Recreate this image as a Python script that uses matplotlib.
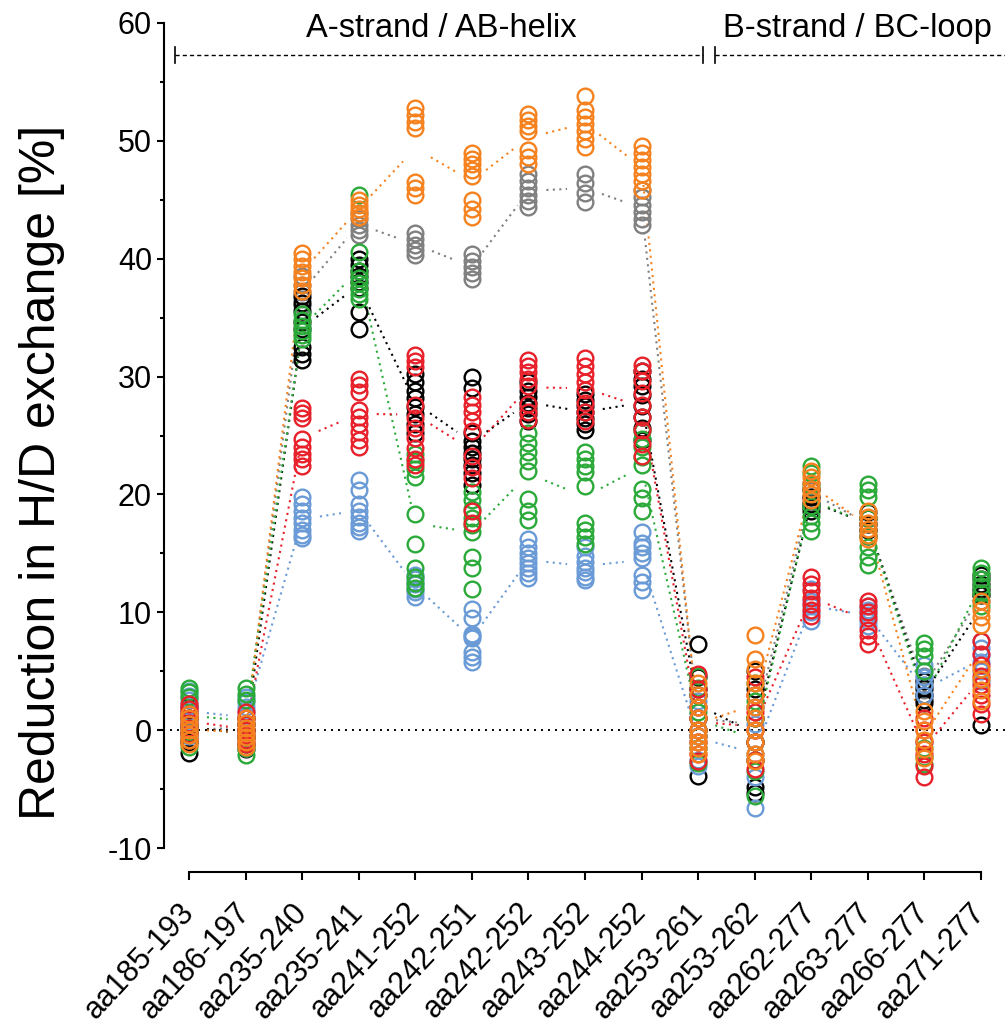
import numpy as np
import matplotlib
matplotlib.use("Agg")
import matplotlib.pyplot as plt

plt.rcParams['font.family'] = ['Liberation Sans', 'DejaVu Sans']
plt.rcParams['axes.unicode_minus'] = False

peptides = ["aa185-193", "aa186-197", "aa235-240", "aa235-241", "aa241-252",
            "aa242-251", "aa242-252", "aa243-252", "aa244-252", "aa253-261",
            "aa253-262", "aa262-277", "aa263-277", "aa266-277", "aa271-277"]

regions = ["A-strand / AB-helix", "B-strand / BC-loop"]

# replicate values per peptide, one list per colour
gray = [[1.0, 0.5, 0.0, -0.5, -1.0], [1.0, 0.5, 0.0, -0.5],
        [38.5, 37.8, 37.2, 36.6, 36.0], [43.9, 43.4, 42.9, 42.4, 42.0],
        [42.2, 41.7, 41.2, 40.7, 40.3], [40.4, 39.8, 39.3, 38.8, 38.3],
        [47.2, 46.6, 46.0, 45.4, 44.9, 44.4], [47.2, 46.4, 45.6, 44.8],
        [45.8, 45.2, 44.6, 44.0, 43.4, 42.9], [3.0, 2.0, 1.0, 0.0, -1.0],
        [3.0, 2.0, 1.0, 0.0, -1.0, -2.0], [21.0, 20.4, 19.8, 19.4],
        [18.0, 17.5, 17.0], [4.6, 4.2, 3.8, 3.4, 3.0], [11.8, 11.5, 11.0]]

black = [[2.0, 1.5, 1.0, 0.4, -0.2, -1.0, -1.9], [1.0, 0.5, 0.0, -0.6, -1.2, -1.6],
         [36.8, 36.2, 35.6, 34.6, 34.0, 32.5, 31.9, 31.4],
         [40.0, 39.5, 39.0, 38.5, 38.0, 37.5, 35.5, 34.0],
         [30.2, 29.5, 28.8, 28.2, 27.4, 26.8, 26.0, 25.2],
         [30.0, 29.0, 25.2, 24.5, 24.0, 23.5, 23.0, 22.5, 21.8, 20.8],
         [29.5, 28.8, 28.3, 27.8, 27.3, 26.8, 26.2],
         [28.5, 28.0, 27.5, 27.0, 26.5, 26.0, 25.5],
         [30.5, 29.8, 29.2, 28.4, 27.5, 26.6, 25.6, 24.6],
         [7.3, 4.5, 3.5, 3.0, 1.0, -0.5, -3.9], [5.0, 3.5, 1.0, -1.0, -4.8, -5.3],
         [20.5, 19.8, 19.2, 18.9, 18.6], [18.5, 18.0, 17.5, 17.0, 16.5],
         [4.2, 3.6, 3.0, 2.6, 2.3], [13.2, 12.8, 12.4, 12.0, 11.5, 0.4]]

blue = [[3.3, 2.9, 2.6, 2.2, 1.5, 0.8, 0.2, -0.5], [2.8, 2.4, 2.0, 1.6, 1.2, 0.5, -0.3, -1.5],
        [19.8, 19.2, 18.6, 18.0, 17.6, 17.0, 16.6, 16.3],
        [21.2, 20.4, 19.2, 18.6, 18.1, 17.6, 17.2, 16.9],
        [13.2, 12.8, 12.4, 12.0, 11.7, 11.3],
        [10.3, 9.5, 8.2, 8.0, 7.8, 6.6, 6.2, 5.8],
        [16.2, 15.5, 15.0, 14.6, 14.2, 13.8, 13.3, 12.9],
        [15.5, 14.8, 14.3, 13.8, 13.4, 13.0, 12.7],
        [16.8, 15.9, 15.5, 15.0, 14.6, 13.2, 12.6, 11.9],
        [2.5, 1.0, -0.5, -1.5, -2.5, -3.0], [2.0, 0.5, -1.0, -2.5, -4.0, -6.6],
        [9.3, 10.0, 10.5, 11.0, 12.0], [8.8, 9.3, 9.8, 10.2, 10.5],
        [5.5, 5.0, 4.5, 3.8, 3.0, -1.0], [7.6, 7.0, 6.4, 5.8, 5.0, 4.2]]

green = [[3.6, 3.2, 2.8, 1.0, 0.2, -0.8, -1.4], [3.6, 3.1, 2.6, 0.5, -0.6, -1.5, -2.1],
         [35.3, 34.8, 34.3, 33.9, 33.5, 33.2],
         [45.4, 40.6, 39.0, 38.4, 37.9, 37.4, 37.0, 36.6],
         [23.4, 22.8, 22.2, 21.5, 18.3, 15.8, 13.8, 13.0, 12.5, 12.1],
         [20.2, 19.5, 18.8, 18.0, 17.4, 16.8, 14.7, 13.8, 12.0],
         [25.2, 24.4, 23.6, 22.8, 22.0, 19.6, 18.6, 17.8],
         [23.6, 23.0, 22.4, 21.9, 20.7, 17.6, 17.0, 16.4, 15.8],
         [25.4, 24.7, 24.0, 23.2, 22.5, 20.5, 19.7, 18.6],
         [4.6, 3.6, 1.5, 0.0, -1.5, -2.8], [4.0, 2.5, 1.0, -1.0, -2.5, -3.5, -5.6],
         [22.4, 21.8, 20.8, 19.0, 18.2, 17.6, 16.9],
         [20.9, 20.4, 19.8, 18.0, 16.5, 15.5, 14.7, 14.0],
         [7.4, 6.9, 6.3, 5.0, -1.5, -2.3, -2.9], [13.8, 13.3, 12.8, 12.2, 11.6, 10.5]]

red = [[2.2, 1.8, 1.4, 1.0, 0.6, 0.2, -0.3, -0.8], [1.5, 1.0, 0.5, 0.0, -0.4, -0.8, -1.2],
       [27.3, 26.9, 26.5, 24.7, 24.0, 23.4, 23.0, 22.4],
       [29.8, 29.3, 28.7, 27.2, 26.6, 26.0, 25.3, 24.6, 24.0],
       [31.8, 31.3, 30.8, 27.6, 26.5, 25.6, 24.8, 23.9, 23.0, 22.5],
       [28.3, 27.6, 27.0, 26.2, 25.4, 23.3, 22.3, 21.4, 18.6, 17.6],
       [31.4, 30.9, 30.4, 29.8, 29.2, 27.7, 27.0, 26.3],
       [31.6, 30.9, 30.2, 29.5, 28.9, 27.8, 27.0, 26.2],
       [31.0, 30.5, 29.6, 28.6, 27.6, 26.6, 25.5, 24.3, 23.3],
       [4.8, 3.5, 2.0, 1.0, 0.0, -1.0, -2.0, -2.6], [4.5, 3.0, 1.5, 0.0, -1.0, -2.5, -3.3],
       [13.0, 12.4, 11.8, 11.2, 10.7, 10.2, 9.7], [11.0, 10.5, 10.0, 9.5, 8.5, 8.0, 7.3],
       [1.0, 0.0, -1.0, -2.0, -3.0, -4.0], [7.6, 6.5, 5.5, 4.6, 3.8, 3.0, 2.2, 1.4]]

orange = [[1.4, 1.0, 0.5, 0.0, -0.4, -0.8, -1.2], [1.0, 0.6, 0.2, -0.2, -0.6, -1.0, -1.4],
          [40.5, 40.0, 39.4, 38.9, 38.4, 37.8, 37.3], [45.0, 44.6, 44.2, 43.9, 43.5],
          [52.8, 52.2, 51.6, 51.1, 46.5, 46.0, 45.4],
          [49.0, 48.5, 48.0, 47.5, 47.0, 45.0, 44.2, 43.5],
          [52.3, 51.8, 51.3, 50.8, 49.2, 48.6, 48.0],
          [53.8, 52.6, 52.0, 51.4, 50.8, 50.2, 49.5],
          [49.6, 49.0, 48.4, 47.8, 47.2, 46.6, 45.8],
          [4.0, 3.0, 2.0, 1.0, 0.0, -0.5, -1.0, -1.5, -2.0],
          [8.1, 6.0, 5.2, 4.0, 3.0, 2.0, 1.0, 0.0, -1.0, -2.0, -2.6],
          [22.0, 21.5, 21.0, 20.5, 20.0, 19.5], [18.6, 18.1, 17.6, 17.1, 16.6, 16.2],
          [1.6, 0.8, 0.0, -0.8, -1.6, -2.4], [11.0, 10.2, 9.6, 8.9, 5.2, 4.3, 3.4, 2.5]]

series = [(gray, '#808080'), (black, '#000000'), (blue, '#6A9BD6'),
          (green, '#2BAA3A'), (red, '#E8202A'), (orange, '#F5821F')]

fig = plt.figure(figsize=(10.05, 10.34), dpi=100)
ax = fig.add_axes([164/1005, 186/1034, 841/1005, 825/1034])
ax.set_xlim(-0.442, 14.425)
ax.set_ylim(-10, 60)

# zero line
ax.axhline(0, xmin=0.007, color='black', lw=1.4, ls=(0, (1, 2.6)), zorder=1)

# mean lines, trimmed a little at each end like Prism does
trim = 18
for vals, col in series:
    means = [np.mean(v) for v in vals]
    for i in range(len(means) - 1):
        p0 = ax.transData.transform((i, means[i]))
        p1 = ax.transData.transform((i + 1, means[i + 1]))
        d = p1 - p0
        u = d / np.hypot(*d)
        q0 = ax.transData.inverted().transform(p0 + u * trim)
        q1 = ax.transData.inverted().transform(p1 - u * trim)
        ax.plot([q0[0], q1[0]], [q0[1], q1[1]], color=col, lw=1.5,
                ls=(0, (1, 2.1)), zorder=2)

for vals, col in series:
    for i, v in enumerate(vals):
        ax.plot([i] * len(v), v, 'o', mfc='none', mec=col, ms=11.3, mew=1.7, zorder=3)

# region header
hy = 57.3
for x0, x1 in [(-0.247, 9.086), (9.298, 14.425)]:
    ax.plot([x0, x1], [hy, hy], color='black', lw=1.0, ls=(0, (3, 2.2)), clip_on=False)
for xc in [-0.247, 9.086, 9.298]:
    ax.plot([xc, xc], [hy - 0.7, hy + 0.7], color='black', lw=1.2, clip_on=False)
ax.text(4.46, 58.8, regions[0], ha='center', va='baseline', fontsize=23.5)
ax.text(11.82, 58.8, regions[1], ha='center', va='baseline', fontsize=23.5)

# axes styling
for s in ['top', 'right']:
    ax.spines[s].set_visible(False)
ax.spines['left'].set_bounds(-10, 60)
ax.spines['left'].set_linewidth(1.5)
ax.spines['bottom'].set_position(('outward', 17.3))
ax.spines['bottom'].set_bounds(0, 14)
ax.spines['bottom'].set_linewidth(1.5)

ax.set_yticks(range(-10, 61, 10))
ax.set_yticks(range(-5, 60, 10), minor=True)
ax.tick_params(axis='y', which='major', length=5.2, width=1.5, labelsize=22, pad=3.5)
ax.tick_params(axis='y', which='minor', length=3, width=1.5)
ax.set_xticks(range(len(peptides)))
ax.set_xticklabels(peptides, rotation=47, ha='right', va='center',
                   rotation_mode='anchor', fontsize=22)
ax.tick_params(axis='x', length=5.5, width=1.5, pad=20)

fig.text(42/1005, 1 - 472/1034, "Reduction in H/D exchange [%]", rotation=90,
         ha='center', va='center', fontsize=36)

fig.savefig("out.png", dpi=100)
